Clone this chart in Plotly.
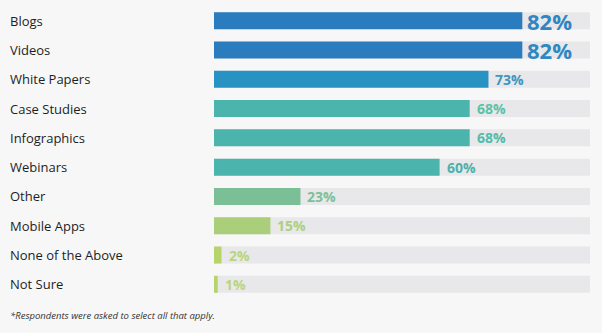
import plotly.graph_objects as go

categories = ["Blogs", "Videos", "White Papers", "Case Studies", "Infographics",
              "Webinars", "Other", "Mobile Apps", "None of the Above", "Not Sure"]
values = [82, 82, 73, 68, 68, 60, 23, 15, 2, 1]
bar_colors = ["#2A7CBF", "#2A7CBF", "#2893C2", "#4BB5AD", "#4BB5AD",
              "#4BB5AD", "#7BBF97", "#ABCE7A", "#B7D46C", "#B7D46C"]
text_colors = ["#3085C3", "#3088C3", "#3B96C1", "#5CC2A6", "#52BBA9",
               "#4DB1AA", "#7DC098", "#ACD07F", "#B9D57C", "#B9D57C"]
label_sizes = [22, 22, 14, 14, 14, 14, 14, 14, 14, 14]
track = [100] * len(categories)
footnote = "*Respondents were asked to select all that apply."

fig = go.Figure()
fig.add_trace(go.Bar(y=categories, x=track, orientation="h",
                     marker=dict(color="#E8E8EA", line=dict(width=0)),
                     hoverinfo="skip", showlegend=False))
fig.add_trace(go.Bar(y=categories, x=values, orientation="h",
                     marker=dict(color=bar_colors, line=dict(width=0)),
                     showlegend=False))

L, R, T, B = 214, 12, 6, 34
W = 602 - L - R
H = 333 - T - B
label_x = (8 - L) / W

annotations = []
for cat, v, c, s in zip(categories, values, text_colors, label_sizes):
    big = s > 20
    ann = dict(x=v, y=cat, xref="x", yref="y", text=f"<b>{v}%</b>",
               xanchor="left", yanchor="middle", showarrow=False,
               xshift=3 if big else 5, yshift=0,
               font=dict(family="Open Sans, sans-serif", size=s, color=c))
    if big:
        ann["height"] = 24
    annotations.append(ann)
    annotations.append(dict(x=label_x, y=cat, xref="paper", yref="y", text=cat,
                            xanchor="left", yanchor="middle", showarrow=False,
                            font=dict(family="Open Sans, sans-serif", size=13, color="#1E1E1E")))
annotations.append(dict(x=label_x, y=-16 / H, xref="paper", yref="paper",
                        text=f"<i>{footnote}</i>", xanchor="left", yanchor="middle",
                        showarrow=False,
                        font=dict(family="Open Sans, sans-serif", size=9.5, color="#333333")))

fig.update_layout(
    width=602, height=333,
    margin=dict(l=L, r=R, t=T, b=B),
    paper_bgcolor="#F7F7F7", plot_bgcolor="#F7F7F7",
    barmode="overlay", bargap=0.42,
    xaxis=dict(range=[0, 100], visible=False, fixedrange=True),
    yaxis=dict(categoryorder="array", categoryarray=categories, autorange="reversed",
               visible=False, fixedrange=True),
    annotations=annotations,
)
fig.write_html("out.html")
